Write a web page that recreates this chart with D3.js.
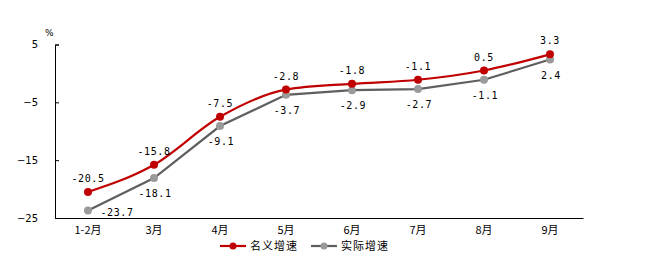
<!DOCTYPE html>
<html>
<head>
<meta charset="utf-8">
<script src="https://cdn.jsdelivr.net/npm/d3@7"></script>
<style>
  body { margin: 0; background: #fff; }
  svg text { font-family: "DejaVu Sans Mono", monospace; font-size: 10px; fill: #000; }
  .cjk { font-family: "Noto Sans CJK SC", sans-serif; font-size: 11px; }
</style>
</head>
<body>
<svg id="chart" width="662" height="273"></svg>
<script>
const months = ["1-2月", "3月", "4月", "5月", "6月", "7月", "8月", "9月"]
const nominal = [-20.5, -15.8, -7.5, -2.8, -1.8, -1.1, 0.5, 3.3]
const real = [-23.7, -18.1, -9.1, -3.7, -2.9, -2.7, -1.1, 2.4]
const yTicks = [5, -5, -15, -25]
const seriesNames = ["名义增速", "实际增速"]

const red = "#c00000"
const grayLine = "#5f5f5f"
const grayDot = "#9a9a9a"

const svg = d3.select("#chart")

let x = d3.scaleBand()
	.domain(months)
	.range([55, 583])

let y = d3.scaleLinear()
	.domain([-25, 5])
	.range([218, 44.5])

let cx = d => x(d) + x.bandwidth() / 2

// y axis
let yAxis = d3.axisLeft(y).tickValues(yTicks).tickSize(-4).tickPadding(17).tickFormat(d3.format("d"))
let yG = svg.append("g")
	.attr("transform", "translate(55,0)")
	.call(yAxis)
yG.select(".domain").attr("stroke", "#000")
yG.selectAll("text").style("font-family", "DejaVu Sans, sans-serif").style("font-size", "10px")

svg.append("text")
	.attr("x", 45)
	.attr("y", 36)
	.style("font-family", "DejaVu Sans, sans-serif")
	.style("font-size", "9px")
	.text("%")

// x axis
let xAxis = d3.axisBottom(x).tickSize(0).tickPadding(8)
let xG = svg.append("g")
	.attr("transform", "translate(0,218)")
	.call(xAxis)
xG.select(".domain").attr("stroke", "#000").attr("stroke-width", 1.2)
xG.selectAll("text").attr("class", "cjk").style("font-size", "11px")

// lines
let lineSmooth = d3.line()
	.x((d, i) => cx(months[i]))
	.y(d => y(d))
	.curve(d3.curveMonotoneX)

let lineStraight = d3.line()
	.x((d, i) => cx(months[i]))
	.y(d => y(d))

svg.append("path")
	.datum(real)
	.attr("fill", "none")
	.attr("stroke", grayLine)
	.attr("stroke-width", 2.2)
	.attr("d", lineStraight)

svg.append("path")
	.datum(nominal)
	.attr("fill", "none")
	.attr("stroke", red)
	.attr("stroke-width", 2.2)
	.attr("d", lineSmooth)

svg.selectAll("circle.real")
	.data(real)
	.enter()
		.append("circle")
		.attr("class", "real")
		.attr("cx", (d, i) => cx(months[i]))
		.attr("cy", d => y(d))
		.attr("r", 4)
		.attr("fill", grayDot)

svg.selectAll("circle.nominal")
	.data(nominal)
	.enter()
		.append("circle")
		.attr("class", "nominal")
		.attr("cx", (d, i) => cx(months[i]))
		.attr("cy", d => y(d))
		.attr("r", 4)
		.attr("fill", red)

// labels
svg.selectAll("text.nom")
	.data(nominal)
	.enter()
		.append("text")
		.attr("class", "nom")
		.attr("x", (d, i) => cx(months[i]))
		.attr("y", d => y(d) - 10)
		.attr("text-anchor", "middle")
		.style("letter-spacing", "0.6px")
		.text(d => d.toFixed(1))

svg.selectAll("text.rl")
	.data(real)
	.enter()
		.append("text")
		.attr("class", "rl")
		.attr("x", (d, i) => i == 0 ? cx(months[i]) + 29 : cx(months[i]) + 1)
		.attr("y", (d, i) => i == 0 ? y(d) + 6 : y(d) + 19)
		.attr("text-anchor", "middle")
		.style("letter-spacing", "0.6px")
		.text(d => d.toFixed(1))

// legend
let legend = svg.append("g")
let items = [{name: seriesNames[0], line: red, dot: red, x: 220},
	{name: seriesNames[1], line: grayLine, dot: grayDot, x: 311}]
items.forEach(function(it){
	legend.append("line")
		.attr("x1", it.x).attr("x2", it.x + 26)
		.attr("y1", 246).attr("y2", 246)
		.attr("stroke", it.line).attr("stroke-width", 2.2)
	legend.append("circle")
		.attr("cx", it.x + 13).attr("cy", 246).attr("r", 3.5)
		.attr("fill", it.dot)
	legend.append("text")
		.attr("class", "cjk")
		.attr("x", it.x + 30).attr("y", 250)
		.style("letter-spacing", "1px")
		.text(it.name)
})
</script>
</body>
</html>
